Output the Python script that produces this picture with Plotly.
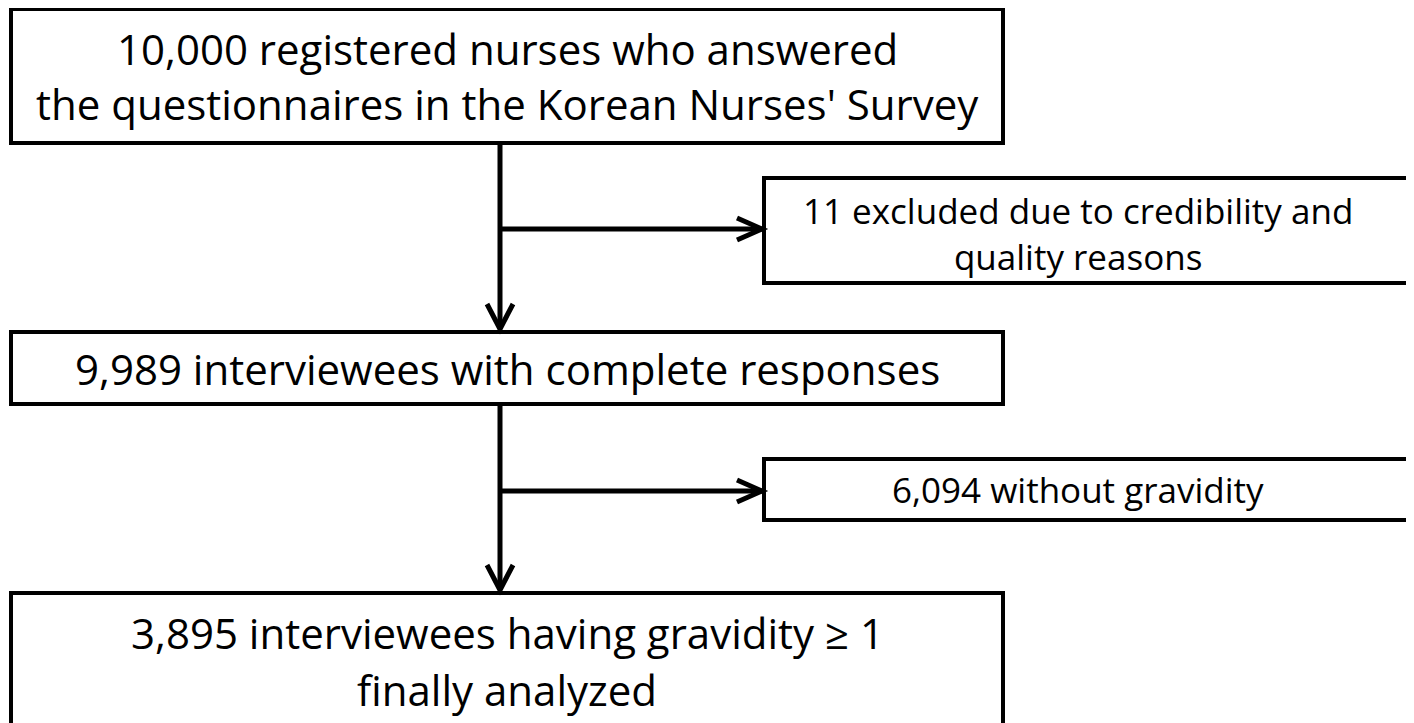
import plotly.graph_objects as go

# flowchart contents
main_lines = [
    ["10,000 registered nurses who answered",
     "the questionnaires in the Korean Nurses' Survey"],
    ["9,989 interviewees with complete responses"],
    ["3,895 interviewees having gravidity \u2265 1", "finally analyzed"],
]
excl_lines = [
    ["11 excluded due to credibility and", "quality reasons"],
    ["6,094 without gravidity"],
]

W, H = 1414, 723
OFF = 8          # the page body keeps an 8 px margin
NEGRO = "#000000"
FUENTE = "Open Sans"

# geometry (pixels, y downward)
main_x = (11, 1003)
main_y = [(9, 143), (332, 404), (593, 740)]
main_text_y = [[48, 103], [368], [632, 689]]
excl_x = (764, 1408)
excl_y = [(178, 283), (459, 520)]
excl_text_y = [233, 489]
tronco_x = 500
rama_y = [229, 491]

fig = go.Figure()
# invisible trace so the axes exist
fig.add_trace(go.Scatter(x=[OFF, W + OFF], y=[OFF, H + OFF], mode="markers",
                         marker=dict(opacity=0), hoverinfo="skip", showlegend=False))

shapes = []
annotations = []


def caja(x0, x1, y0, y1, ancho=4):
    shapes.append(dict(type="rect", xref="x", yref="y", x0=x0, x1=x1, y0=y0, y1=y1,
                       line=dict(color=NEGRO, width=ancho), fillcolor="white", layer="below"))


def linea(x0, y0, x1, y1, ancho=5):
    shapes.append(dict(type="line", xref="x", yref="y", x0=x0, y0=y0, x1=x1, y1=y1,
                       line=dict(color=NEGRO, width=ancho)))


def chevron(path):
    shapes.append(dict(type="path", xref="x", yref="y", path=path,
                       line=dict(color=NEGRO, width=5), fillcolor="rgba(0,0,0,0)"))


for (y0, y1), lineas, ys in zip(main_y, main_lines, main_text_y):
    caja(main_x[0], main_x[1], y0, y1)
    for t, yy in zip(lineas, ys):
        annotations.append(dict(x=(main_x[0] + main_x[1]) / 2, y=yy, xref="x", yref="y",
                                text=t, showarrow=False,
                                font=dict(family=FUENTE, size=42, color=NEGRO)))

for (y0, y1), lineas, yy in zip(excl_y, excl_lines, excl_text_y):
    caja(excl_x[0], excl_x[1], y0, y1)
    annotations.append(dict(x=(excl_x[0] + excl_x[1]) / 2 - 8, y=yy, xref="x", yref="y",
                            text="<br>".join(lineas), showarrow=False, align="center",
                            font=dict(family=FUENTE, size=35, color=NEGRO)))

# connectors
for i, ry in enumerate(rama_y):
    top = main_y[i][1]
    bottom = main_y[i + 1][0] - 3
    linea(tronco_x, top, tronco_x, bottom)
    chevron(f"M {tronco_x-13} {bottom-25} L {tronco_x} {bottom} L {tronco_x+13} {bottom-25}")
    tip = excl_x[0] - 2
    linea(tronco_x, ry, tip, ry)
    chevron(f"M {tip-25} {ry-11} L {tip} {ry} L {tip-25} {ry+11}")

fig.update_layout(
    width=W, height=H,
    margin=dict(l=0, r=0, t=0, b=0),
    paper_bgcolor="white", plot_bgcolor="white",
    shapes=shapes, annotations=annotations,
    xaxis=dict(range=[OFF, W + OFF], visible=False, fixedrange=True),
    yaxis=dict(range=[H + OFF, OFF], visible=False, fixedrange=True),
    showlegend=False,
)

fig.write_html("out.html")
